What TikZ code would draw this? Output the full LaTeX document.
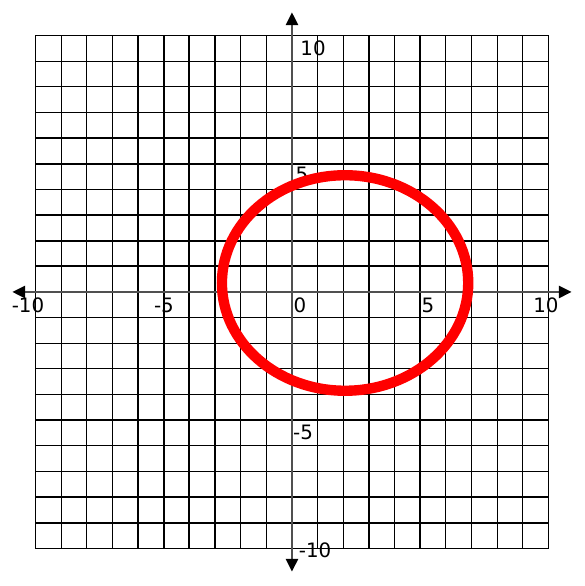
\documentclass[tikz,border=0pt]{standalone}
\usepackage{fontspec}
\setmainfont{DejaVu Sans}
\definecolor{curvered}{RGB}{255, 0, 0}
\definecolor{axisgray}{RGB}{80, 80, 80}
\usepackage{tikz}
\usetikzlibrary{arrows.meta, positioning, calc}

\begin{document}
\begin{tikzpicture}[
    thinline/.style={black, line width=1.2pt},
    boldline/.style={black, line width=2.4pt},
    axisline/.style={axisgray, line width=2.8pt, {Triangle[length=0.5cm, width=0.47cm, color=black]}-{Triangle[length=0.5cm, width=0.47cm, color=black]}},
    ticklabel/.style={font=\fontsize{22}{26}\selectfont, inner sep=0pt}
  ]
  \useasboundingbox (-11.38,-11.46) rectangle (11.42,11.38);

  % Grid
  \foreach \k in {-10,...,10} {
    \draw[thinline] (\k,-10) -- (\k,10);
    \draw[thinline] (-10,\k) -- (10,\k);
  }
  \foreach \k in {-5,-4,3,5} {
    \draw[boldline] (\k,-10) -- (\k,10);
  }
  \foreach \k in {5,2,1,-5,-8,-9} {
    \draw[boldline] (-10,\k) -- (10,\k);
  }

  % Axes
  \coordinate (xleft) at (-10.9,0);
  \coordinate (xright) at (10.9,0);
  \coordinate (ybottom) at (0,-10.9);
  \coordinate (ytop) at (0,10.9);
  \draw[axisline] (xleft) -- (xright);
  \draw[axisline] (ybottom) -- (ytop);

  % Tick labels
  \node[ticklabel] (xmten) at (-10.29,-0.51) {-10};
  \node[ticklabel] (xmfive) at (-4.99,-0.51) {-5};
  \node[ticklabel] (xzero) at (0.31,-0.51) {0};
  \node[ticklabel] (xfive) at (5.3,-0.51) {5};
  \node[ticklabel] (xten) at (9.9,-0.51) {10};
  \node[ticklabel] (yten) at (0.82,9.51) {10};
  \node[ticklabel] (yfive) at (0.39,4.6) {5};
  \node[ticklabel] (ymfive) at (0.43,-5.46) {-5};
  \node[ticklabel] (ymten) at (0.9,-10.06) {-10};

  % Ellipse
  \draw[curvered, line width=11.5pt] (2.07,0.35) ellipse [x radius=4.8, y radius=4.2];
\end{tikzpicture}
\end{document}
